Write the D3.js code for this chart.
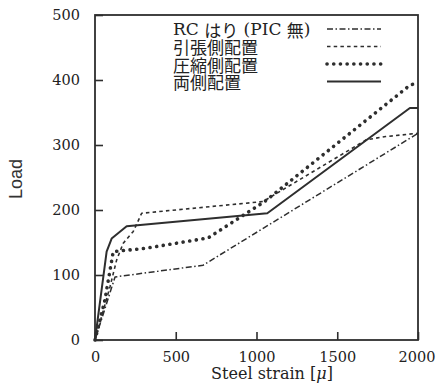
<!DOCTYPE html>
<html>
<head>
<meta charset="utf-8">
<script src="https://cdn.jsdelivr.net/npm/d3@7"></script>
<style>
  html, body { margin: 0; padding: 0; background: #fff; }
  svg { display: block; }
</style>
</head>
<body>
<svg id="chart" width="436" height="391"></svg>
<script>
// ---- data ----
const seriesNames = ["RC はり (PIC 無)", "引張側配置", "圧縮側配置", "両側配置"];

const strainRC = [0, 124, 669, 2000];
const loadRC   = [0, 97, 115, 318];

const strainTension = [0, 93, 134, 175, 237, 289, 1040, 1680, 1800, 2000];
const loadTension   = [0, 82, 123, 149, 167, 195, 213, 308, 313, 318];

const strainCompression = [0, 60, 113, 310, 700, 1050, 1950, 2000];
const loadCompression   = [0, 60, 136, 141, 157, 213, 392, 396];

const strainBoth = [0, 72, 103, 196, 1067, 1950, 2000];
const loadBoth   = [0, 136, 156, 175, 195, 357, 357];

const xTicks = [0, 500, 1000, 1500, 2000];
const yTicks = [0, 100, 200, 300, 400, 500];

// ---- drawing ----
const svg = d3.select("#chart");
const ink = "#2e2e2e";
const serif = "'DejaVu Serif', 'Liberation Serif', serif";
const cjk = "'Noto Sans CJK JP', sans-serif";

const x = d3.scaleLinear().domain([0, 2000]).range([95, 418]);
const y = d3.scaleLinear().domain([0, 500]).range([340, 15]);

// axes with inward ticks
const gx = svg.append("g").attr("transform", `translate(0,${y(0)})`)
  .call(d3.axisBottom(x).tickValues(xTicks).tickFormat(d3.format("d"))
        .tickSizeInner(-8).tickSizeOuter(0).tickPadding(12));
const gy = svg.append("g").attr("transform", `translate(${x(0)},0)`)
  .call(d3.axisLeft(y).tickValues(yTicks).tickFormat(d3.format("d"))
        .tickSizeInner(-8).tickSizeOuter(0).tickPadding(15));
[gx, gy].forEach(g => {
  g.select(".domain").remove();
  g.selectAll(".tick line").attr("stroke", ink).attr("stroke-width", 1.6);
  g.selectAll(".tick text").attr("fill", "#222").style("font-family", serif).style("font-size", "14.5px");
});
gx.selectAll(".tick text").filter(d => d === 2000).attr("text-anchor", "end").attr("x", 17);

// frame
svg.append("rect")
  .attr("x", x(0)).attr("y", y(500))
  .attr("width", x(2000) - x(0)).attr("height", y(0) - y(500))
  .attr("fill", "none").attr("stroke", ink).attr("stroke-width", 1.8);

const styles = [
  { dash: "6,2.5,1.5,2.5", width: 1.5, cap: "butt" },
  { dash: "3.5,3.2", width: 1.6, cap: "butt" },
  { dash: "0.1,6.6", width: 3.6, cap: "round" },
  { dash: null, width: 2, cap: "butt" }
];

const series = [
  { xs: strainRC, ys: loadRC },
  { xs: strainTension, ys: loadTension },
  { xs: strainCompression, ys: loadCompression },
  { xs: strainBoth, ys: loadBoth }
];

const line = d3.line().x(d => x(d[0])).y(d => y(d[1]));

series.forEach((s, i) => {
  const pts = s.xs.map((v, j) => [v, s.ys[j]]);
  const st = styles[i];
  svg.append("path")
    .attr("d", line(pts))
    .attr("fill", "none")
    .attr("stroke", ink)
    .attr("stroke-width", st.width)
    .attr("stroke-linecap", st.cap)
    .attr("stroke-linejoin", "round")
    .attr("stroke-dasharray", st.dash);
});

// legend
const legendRows = [29, 46.5, 64, 81.5];
seriesNames.forEach((name, i) => {
  const st = styles[i];
  const t = svg.append("text")
    .attr("x", 173).attr("y", legendRows[i])
    .attr("dominant-baseline", "central")
    .attr("fill", "#222");
  if (i === 0) {
    t.style("font-family", serif).style("font-size", "17px");
    t.append("tspan").text("RC ");
    t.append("tspan").style("font-family", cjk).text("はり");
    t.append("tspan").text(" (PIC ");
    t.append("tspan").style("font-family", cjk).text("無");
    t.append("tspan").text(")");
  } else {
    t.style("font-family", cjk).style("font-size", "17px").text(name);
  }
  svg.append("line")
    .attr("x1", 327).attr("x2", 381)
    .attr("y1", legendRows[i]).attr("y2", legendRows[i])
    .attr("stroke", ink)
    .attr("stroke-width", st.width)
    .attr("stroke-linecap", st.cap)
    .attr("stroke-dasharray", st.dash);
});

// axis titles
svg.append("text")
  .attr("transform", "translate(16,179) rotate(-90)")
  .attr("text-anchor", "middle")
  .attr("dominant-baseline", "central")
  .attr("fill", "#333")
  .style("font-family", "'Liberation Sans', Arial, sans-serif")
  .style("font-size", "18px")
  .text("Load");

const xt = svg.append("text")
  .attr("x", 272).attr("y", 379)
  .attr("text-anchor", "middle")
  .attr("fill", "#222")
  .style("font-family", serif)
  .style("font-size", "16px");
xt.append("tspan").text("Steel strain [");
xt.append("tspan").style("font-style", "italic").text("μ");
xt.append("tspan").text("]");
</script>
</body>
</html>
